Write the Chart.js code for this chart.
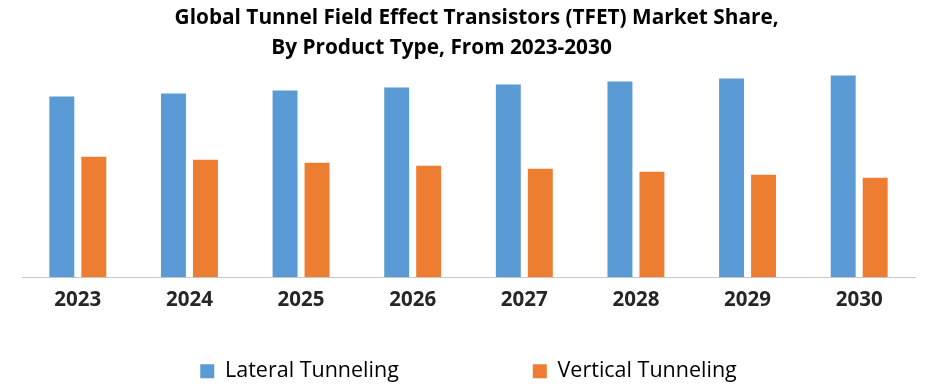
<!DOCTYPE html>
<html>
<head>
<meta charset="utf-8">
<script src="https://cdn.jsdelivr.net/npm/chart.js@4"></script>
<style>
  html, body { margin: 0; padding: 0; background: #fff; }
  #wrap { width: 939px; height: 392px; position: relative; }
</style>
</head>
<body>
<div id="wrap"><canvas id="chart"></canvas></div>
<script>
// data (share in %)
const years = ["2023", "2024", "2025", "2026", "2027", "2028", "2029", "2030"];
const lateral = [60, 61, 62, 63, 64, 65, 66, 67];
const vertical = [40, 39, 38, 37, 36, 35, 34, 33];
const seriesNames = ["Lateral Tunneling", "Vertical Tunneling"];
const titleLines = [
  "Global Tunnel Field Effect Transistors (TFET) Market Share,",
  "By Product Type, From 2023-2030"
];

const COLORS = { blue: '#5B9BD5', orange: '#ED7D31' };
const FONT = '"Open Sans", sans-serif';

const ctx = document.getElementById('chart').getContext('2d');
new Chart(ctx, {
  type: 'bar',
  data: {
    labels: years,
    datasets: [
      { label: seriesNames[0], data: lateral, backgroundColor: COLORS.blue },
      { label: seriesNames[1], data: vertical, backgroundColor: COLORS.orange }
    ]
  },
  options: {
    responsive: true,
    maintainAspectRatio: false,
    animation: false,
    datasets: { bar: { categoryPercentage: 0.573, barPercentage: 0.78 } },
    layout: { padding: { left: 22, right: 24, top: 3, bottom: 0 } },
    plugins: {
      title: {
        display: true,
        // spaces nudge each line like the original
        text: ["   " + titleLines[0], titleLines[1] + "          "],
        color: '#000',
        font: { family: FONT, size: 20.8, weight: 'bold', lineHeight: 1.45 },
        padding: { top: 0, bottom: 0 }
      },
      legend: {
        position: 'bottom',
        labels: {
          color: '#000',
          boxWidth: 14,
          boxHeight: 14,
          padding: 44.6,
          font: { family: FONT, size: 21.5, lineHeight: 1.0 },
          generateLabels(chart) {
            const items = Chart.defaults.plugins.legend.labels.generateLabels(chart);
            items[0].text = items[0].text + "                ";
            items.forEach(it => { it.lineWidth = 0; });
            return items;
          }
        }
      },
      tooltip: { enabled: false }
    },
    scales: {
      x: {
        grid: { display: false },
        border: { display: true, color: '#c8c8c8', dash: [2, 2], width: 1 },
        ticks: {
          color: '#262626',
          padding: 3,
          font: { family: FONT, size: 20.5, weight: 'bold' }
        }
      },
      y: {
        display: false,
        min: 0,
        max: 71
      }
    }
  }
});
</script>
</body>
</html>
